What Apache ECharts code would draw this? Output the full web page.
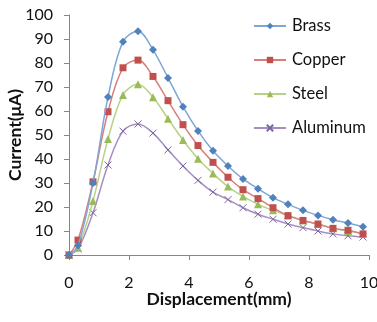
<!DOCTYPE html>
<html>
<head>
<meta charset="utf-8">
<script src="https://cdn.jsdelivr.net/npm/echarts@6/dist/echarts.min.js"></script>
<style>html,body{margin:0;padding:0;background:#fff}#c{width:377px;height:322px}</style>
</head>
<body>
<div id="c"></div>
<script>
var displacement = [0, 0.3, 0.8, 1.3, 1.8, 2.3, 2.8, 3.3, 3.8, 4.3, 4.8, 5.3, 5.8, 6.3, 6.8, 7.3, 7.8, 8.3, 8.8, 9.3, 9.8];
var brass    = [0, 4, 30, 65.8, 88.9, 93.2, 85.5, 73.8, 61.8, 51.7, 43.4, 37.1, 31.7, 27.6, 23.9, 21.1, 18.6, 16.5, 14.7, 13.3, 11.8];
var copper   = [0, 6.2, 30.5, 59.7, 78, 81.2, 74.4, 64.3, 54.3, 45.6, 38.6, 32.4, 27.2, 23.5, 19.7, 16.4, 14.4, 12.9, 11.1, 10.3, 8.8];
var steel    = [0, 3, 22.5, 48.3, 66.7, 71.1, 65.7, 56.8, 47.9, 40.1, 34, 28.5, 24.4, 21.1, 18.6, 16.5, 14.4, 12.9, 11.1, 10, 8.9];
var aluminum = [0, 2.5, 17.6, 37.5, 51.6, 54.6, 50.8, 43.8, 37.1, 31.1, 26.2, 23.1, 19.7, 17, 14.9, 12.9, 11.4, 10, 8.8, 8, 7.5];
var seriesNames = ['Brass', 'Copper', 'Steel', 'Aluminum'];
var xTicks = [0, 2, 4, 6, 8, 10];

function pairs(ys) { return displacement.map(function (x, i) { return [x, ys[i]]; }); }

var FONT = 'Lato';
var colors = ['#4F81BD', '#C0504D', '#9BBB59', '#8064A2'];
var lineColors = ['#7FA6D6', '#D77F7C', '#B7D288', '#A58FC2'];
var symbols = ['diamond', 'rect', 'triangle', 'path://M0,0 L2,2 M2,0 L0,2'];
var sizes = [8, 7, 8, 7];
var datas = [brass, copper, steel, aluminum];

var series = seriesNames.map(function (n, i) {
  var isX = i === 3;
  return {
    name: n,
    type: 'line',
    data: pairs(datas[i]),
    smooth: 0.35,
    symbol: symbols[i],
    symbolSize: sizes[i],
    showSymbol: true,
    lineStyle: { color: lineColors[i], width: 1.5 },
    itemStyle: isX ? { color: 'transparent', borderColor: colors[i], borderWidth: 1 } : { color: colors[i], borderWidth: 0 },
    emphasis: { disabled: true },
    z: 10 - i
  };
});

var chart = echarts.init(document.getElementById('c'), null, { renderer: 'canvas' });
chart.setOption({
  animation: false,
  backgroundColor: '#fff',
  textStyle: { fontFamily: FONT },
  grid: { left: 69, right: 8, top: 15, bottom: 67, containLabel: false, outerBoundsMode: 'none' },
  legend: {
    orient: 'vertical',
    left: 253,
    top: 16,
    padding: 0,
    itemWidth: 32,
    itemHeight: 8,
    itemGap: 14,
    data: seriesNames,
    textStyle: { fontFamily: FONT, fontSize: 16.5, color: '#111', lineHeight: 20, padding: [0, 0, 0, 1] }
  },
  xAxis: {
    type: 'value',
    min: 0, max: 10, interval: 2,
    name: 'Displacement(mm)',
    nameLocation: 'middle',
    nameGap: 35,
    nameMoveOverlap: false,
    nameTextStyle: { fontFamily: FONT, fontSize: 17.5, fontWeight: 'bold', color: '#111' },
    axisLine: { show: true, onZero: false, lineStyle: { color: '#868686', width: 1 } },
    axisTick: { show: true, inside: false, length: 5, lineStyle: { color: '#868686' } },
    axisLabel: { margin: 20, fontSize: 16, color: '#111', fontFamily: FONT,
      formatter: function (v) { return xTicks.indexOf(v) >= 0 ? String(v) : ''; } },
    splitLine: { show: false }
  },
  yAxis: {
    type: 'value',
    min: 0, max: 100, interval: 10,
    name: 'Current(μA)',
    nameLocation: 'middle',
    nameGap: 45,
    nameMoveOverlap: false,
    nameTextStyle: { fontFamily: FONT, fontSize: 17.5, fontWeight: 'bold', color: '#111' },
    axisLine: { show: true, lineStyle: { color: '#868686', width: 1 } },
    axisTick: { show: true, inside: false, length: 5, lineStyle: { color: '#868686' } },
    axisLabel: { margin: 16, fontSize: 16, color: '#111', fontFamily: FONT },
    splitLine: { show: false }
  },
  series: series
});
</script>
</body>
</html>
